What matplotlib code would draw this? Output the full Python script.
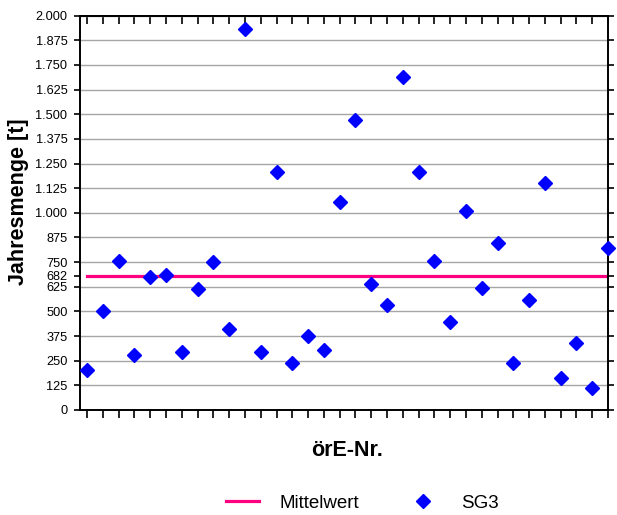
import matplotlib
matplotlib.use("Agg")
import matplotlib.pyplot as plt
from matplotlib.lines import Line2D

plt.rcParams['font.family'] = ['Liberation Sans', 'DejaVu Sans']

# Data
site_index = list(range(1, 35))
sg3_values = [203, 502, 757, 279, 676, 685, 293, 614, 751, 409,
              1934, 296, 1206, 237, 375, 304, 1055, 1469, 637, 533,
              1691, 1206, 756, 445, 1009, 617, 849, 237, 558, 1153,
              161, 342, 110, 820]
mean_value = 682
ytick_values = [0, 125, 250, 375, 500, 625, 682, 750, 875, 1000, 1125, 1250,
                1375, 1500, 1625, 1750, 1875, 2000]
grid_values = [125, 250, 375, 500, 625, 750, 875, 1000, 1125, 1250,
               1375, 1500, 1625, 1750, 1875, 2000]

def fmt(v):
    return f"{v:,}".replace(",", ".")

W, H = 617, 515
fig = plt.figure(figsize=(W / 100, H / 100), dpi=100)
ax = fig.add_axes([80 / W, 1 - 410 / H, (608 - 80) / W, (410 - 15.7) / H])

for g in grid_values:
    ax.axhline(g, color='#a6a6a6', lw=1.0, zorder=1)

ax.plot([site_index[0], site_index[-1]], [mean_value, mean_value],
        color='#ff0080', lw=2.3, zorder=2, label='Mittelwert')
ax.plot(site_index, sg3_values, linestyle='none', marker='D', ms=7.2,
        color='#0000ff', zorder=5, label='SG3', clip_on=False)

ax.set_xlim(0.55, 34)
ax.set_ylim(0, 2000)

ax.set_yticks(ytick_values)
ax.set_yticklabels([fmt(v) for v in ytick_values])
ax.set_xticks(site_index)
ax.set_xticklabels([])

for s in ax.spines.values():
    s.set_linewidth(1.4)
    s.set_color('black')

ax.tick_params(axis='y', direction='out', length=4, width=1.2, labelsize=9.2,
               pad=5, right=True, labelright=False)
ax.tick_params(axis='x', direction='out', length=6, width=1.2, bottom=True)

sec = ax.secondary_xaxis('top')
sec.set_xticks(site_index)
sec.set_xticklabels([])
sec.tick_params(axis='x', direction='in', length=6, width=1.2)
sec.spines['top'].set_linewidth(1.4)

fig.text(19 / W, 1 - 202 / H, 'Jahresmenge [t]', rotation=90, fontsize=15.5,
         fontweight='bold', ha='center', va='center')
fig.text(347 / W, 1 - 451 / H, 'örE-Nr.', fontsize=15.5, fontweight='bold',
         ha='center', va='center')

handles = [Line2D([], [], color='#ff0080', lw=2.3),
           Line2D([], [], color='#0000ff', marker='D', ms=7.2, linestyle='none')]
fig.legend(handles, ['Mittelwert', 'SG3'], loc='center',
           bbox_to_anchor=(362 / W, 1 - 503 / H), ncol=2, frameon=False,
           fontsize=13.5, handlelength=1.8, handletextpad=1.1,
           columnspacing=2.5, borderpad=0.2)

fig.savefig('out.png', dpi=100)
